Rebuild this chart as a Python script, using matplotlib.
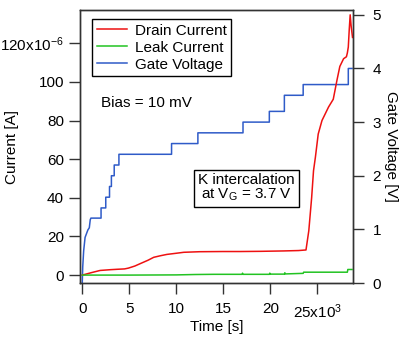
import matplotlib
matplotlib.use("Agg")
import matplotlib.pyplot as plt

plt.rcParams['font.family'] = ['Liberation Sans', 'DejaVu Sans']
plt.rcParams['font.size'] = 11
plt.rcParams['mathtext.fontset'] = 'custom'
plt.rcParams['mathtext.rm'] = 'Liberation Sans'
plt.rcParams['mathtext.it'] = 'Liberation Sans:italic'

# time in units of 10^3 s, currents in units of 10^-6 A
drainTime = [0, 1.0, 1.9, 3.0, 3.7, 4.5, 4.9, 5.6, 6.2, 7.0, 7.6, 8.3, 9.0,
             10.0, 10.8, 12.5, 15.0, 16.8, 19.0, 21.4, 23.0, 23.8, 24.1,
             24.4, 24.6, 24.8, 25.1, 25.5, 26.2, 26.7, 27.1, 27.4, 27.8,
             28.1, 28.2, 28.3, 28.4, 28.5, 28.6, 28.75]
drainCurrent = [0, 1.3, 2.4, 2.8, 3.0, 3.2, 3.6, 4.7, 6.0, 7.7, 9.2, 10.0,
                10.7, 11.3, 11.8, 12.1, 12.2, 12.2, 12.3, 12.5, 12.7, 13.0,
                23, 40, 54, 61, 73, 80, 87, 91, 101, 108, 112, 113, 115,
                118, 127, 134.7, 129, 123]

leakTime = [0, 5, 10, 12, 14, 17.0, 17.05, 17.1, 19.9, 19.95, 20.0, 21.5,
            21.55, 21.6, 23.5, 23.55, 28.2, 28.25, 28.7]
leakCurrent = [0, 0, 0.1, 0.3, 0.4, 0.4, 1.0, 0.4, 0.4, 1.0, 0.5, 0.5, 1.2,
               0.6, 0.9, 1.5, 1.5, 2.9, 2.9]

gateTime = [0, 0.05, 0.15, 0.3, 0.6, 0.75, 0.85, 0.92, 2.0, 2.0, 2.5, 2.5,
            2.9, 2.9, 3.1, 3.1, 3.4, 3.4, 3.9, 3.9, 9.5, 9.5, 12.3, 12.3,
            17.1, 17.1, 19.9, 19.9, 21.5, 21.5, 23.5, 23.5, 28.3, 28.3, 28.7]
gateVoltage = [0, 0.3, 0.6, 0.85, 0.99, 1.03, 1.18, 1.21, 1.21, 1.4, 1.4,
               1.6, 1.6, 1.8, 1.8, 2.0, 2.0, 2.2, 2.2, 2.4, 2.4, 2.6, 2.6,
               2.8, 2.8, 3.0, 3.0, 3.2, 3.2, 3.5, 3.5, 3.7, 3.7, 4.0, 4.0]

currentTicks = [0, 20, 40, 60, 80, 100, 120]
currentTickLabels = ["0", "20", "40", "60", "80", "100", r"120x10$^{-6}$"]
timeTicks = [0, 5, 10, 15, 20, 25]
timeTickLabels = ["0", "5", "10", "15", "20", r"25x10$^{3}$"]
voltTicks = [0, 1, 2, 3, 4, 5]

frameColor = '#333333'

fig = plt.figure(figsize=(3.99, 3.37), dpi=100)
ax = fig.add_axes([0.2005, 0.1602, 0.6842, 0.8101])
ax2 = ax.twinx()
ax.set_zorder(ax2.get_zorder() + 1)
ax.patch.set_visible(False)

gateLine, = ax2.plot(gateTime, gateVoltage, color='#2f5bc8', lw=1.1)
drainLine, = ax.plot(drainTime, drainCurrent, color='#ee1111', lw=1.1)
leakLine, = ax.plot(leakTime, leakCurrent, color='#22c322', lw=1.1)

ax.set_xlim(-0.24, 28.8)
ax.set_ylim(-4.1, 137.2)
ax2.set_ylim(0, 5.09)

ax.set_xticks(timeTicks)
ax.set_xticklabels(timeTickLabels)
ax.set_yticks(currentTicks)
ax.set_yticklabels(currentTickLabels)
ax2.set_yticks(voltTicks)

for a in (ax, ax2):
    for s in a.spines.values():
        s.set_color(frameColor)
        s.set_linewidth(1.0)
ax.tick_params(axis='both', direction='out', length=8, width=1.0,
               color=frameColor, pad=3.5)
ax.tick_params(axis='x', pad=6)
ax2.tick_params(axis='y', direction='out', length=8, width=1.0,
                color=frameColor, pad=6)

ax.set_xlabel("Time [s]", labelpad=-1)
ax.set_ylabel("Current [A]")
ax.yaxis.set_label_coords(-0.222, 0.5)
ax2.set_ylabel("Gate Voltage [V]", rotation=270, labelpad=12)

leg = ax.legend([drainLine, leakLine, gateLine],
                ["Drain Current", "Leak Current", "Gate Voltage"],
                loc='upper left', bbox_to_anchor=(0.044, 0.967),
                borderaxespad=0, fancybox=False, framealpha=1,
                edgecolor='black', handlelength=2.0, handletextpad=0.5,
                borderpad=0.3, labelspacing=0.2)
leg.get_frame().set_linewidth(1.0)

ax.text(0.077, 0.66, "Bias = 10 mV", transform=ax.transAxes,
        ha='left', va='center')
ax.text(0.61, 0.348, "K intercalation\nat V$_\\mathrm{G}$ = 3.7 V",
        transform=ax.transAxes, ha='center', va='center',
        multialignment='center', linespacing=1.0,
        bbox=dict(boxstyle='square,pad=0.25', fc='white', ec='black', lw=1.0))

fig.savefig("out.png", dpi=100)
